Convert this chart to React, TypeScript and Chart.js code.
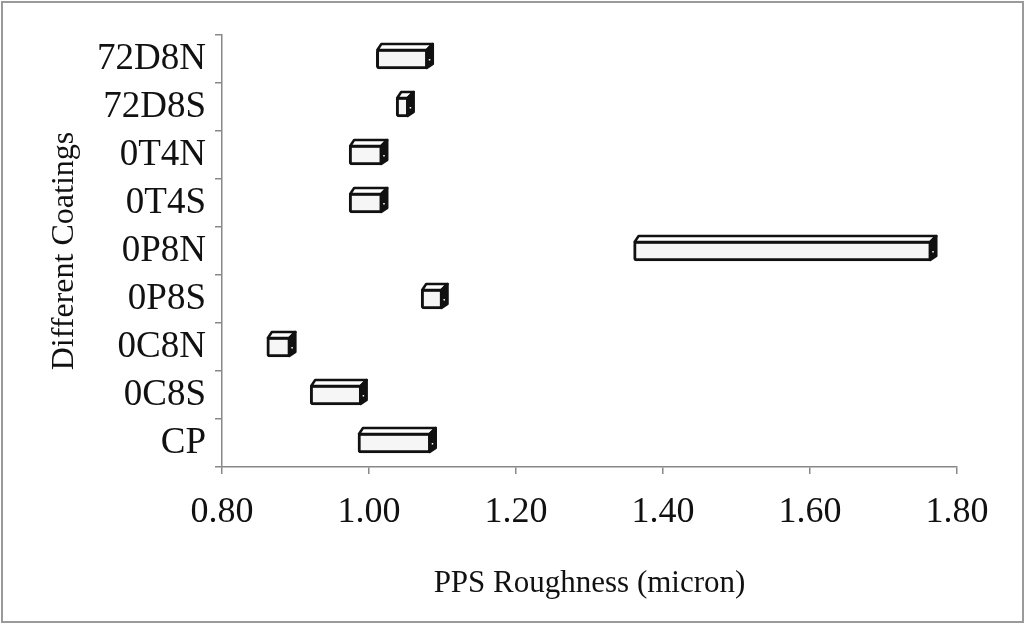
import React, { useEffect, useRef } from "react";
import { Chart, registerables } from "chart.js";

Chart.register(...registerables);

const categories = ["72D8N", "72D8S", "0T4N", "0T4S", "0P8N", "0P8S", "0C8N", "0C8S", "CP"];
const lowValues = [1.01, 1.037, 0.973, 0.973, 1.36, 1.071, 0.861, 0.92, 0.985];
const highValues = [1.08, 1.054, 1.018, 1.018, 1.765, 1.1, 0.893, 0.99, 1.084];
const xTickMin = 0.8;
const xTickMax = 1.8;
const xTickStep = 0.2;

const FONT = '"Liberation Serif", "Times New Roman", serif';

const box3d = {
  id: "box3d",
  beforeDraw(chart: any) {
    const { ctx, width, height } = chart;
    ctx.save();
    ctx.fillStyle = "#ffffff";
    ctx.fillRect(0, 0, width, height);
    ctx.strokeStyle = "#9a9a9a";
    ctx.lineWidth = 2;
    ctx.strokeRect(2, 2, width - 4, height - 4);
    ctx.restore();
  },
  afterDatasetsDraw(chart: any) {
    const { ctx } = chart;
    const meta = chart.getDatasetMeta(0);
    const d = 5;
    ctx.save();
    ctx.lineJoin = "round";
    meta.data.forEach((el: any) => {
      const p = el.getProps(["x", "y", "base", "height"], true);
      const left = Math.min(p.x, p.base);
      const right = Math.max(p.x, p.base);
      const top = p.y - p.height / 2;
      const bottom = p.y + p.height / 2;
      // top face
      ctx.beginPath();
      ctx.moveTo(left + 1, top + 1);
      ctx.lineTo(left + d, top - d);
      ctx.lineTo(right + d, top - d);
      ctx.lineTo(right - 1, top + 1);
      ctx.closePath();
      ctx.fillStyle = "#ffffff";
      ctx.fill();
      ctx.strokeStyle = "#111";
      ctx.lineWidth = 2.5;
      ctx.stroke();
      // right face
      ctx.beginPath();
      ctx.moveTo(right - 1, top + 1);
      ctx.lineTo(right + d, top - d);
      ctx.lineTo(right + d, bottom - d);
      ctx.lineTo(right - 1, bottom - 1);
      ctx.closePath();
      ctx.fillStyle = "#111";
      ctx.fill();
      ctx.stroke();
      ctx.fillStyle = "#ffffff";
      ctx.fillRect(right + 1, bottom - d - 5, 1.5, 1.5);
    });
    ctx.restore();
  },
};

export default function App() {
  const ref = useRef<HTMLCanvasElement | null>(null);

  useEffect(() => {
    document.body.style.margin = "0";
    if (!ref.current) return;
    const chart = new Chart(ref.current, {
      type: "bar",
      data: {
        labels: categories,
        datasets: [
          {
            data: categories.map((_, i) => [lowValues[i], highValues[i]]),
            backgroundColor: "#f6f6f6",
            borderColor: "#111",
            borderWidth: 3,
            borderRadius: 3,
            borderSkipped: false,
            barThickness: 20,
          },
        ],
      },
      options: {
        indexAxis: "y",
        responsive: false,
        animation: false,
        layout: { padding: { top: 35, right: 68, left: 0, bottom: 0 } },
        plugins: { legend: { display: false }, tooltip: { enabled: false } },
        scales: {
          x: {
            type: "linear",
            min: xTickMin,
            max: xTickMax,
            afterFit: (s: any) => {
              s.height = 157;
            },
            ticks: {
              stepSize: xTickStep,
              callback: (v: any) => Number(v).toFixed(2),
              color: "#111",
              padding: 17,
              font: { family: FONT, size: 36, lineHeight: 1.2 },
            },
            grid: { drawOnChartArea: false, tickLength: 7, color: "#888", lineWidth: 1.5 },
            border: { display: true, color: "#888", width: 1.5 },
            title: {
              display: true,
              text: "PPS Roughness (micron)",
              color: "#111",
              font: { family: FONT, size: 31, lineHeight: 1.2 },
              padding: { top: 0, bottom: 22 },
            },
          },
          y: {
            type: "category",
            afterFit: (s: any) => {
              s.width = 222;
            },
            ticks: {
              color: "#111",
              padding: 9,
              font: { family: FONT, size: 37, lineHeight: 1.2 },
            },
            grid: { drawOnChartArea: false, tickLength: 7, color: "#888", lineWidth: 1.5, offset: true },
            border: { display: true, color: "#888", width: 1.5 },
            title: {
              display: true,
              text: "Different Coatings",
              color: "#111",
              font: { family: FONT, size: 32, lineHeight: 1.2 },
              padding: { top: 45, bottom: 0 },
            },
          },
        },
      },
      plugins: [box3d],
    });
    return () => chart.destroy();
  }, []);

  return (
    <div style={{ width: 1025, height: 624 }}>
      <canvas ref={ref} width={1025} height={624} />
    </div>
  );
}
